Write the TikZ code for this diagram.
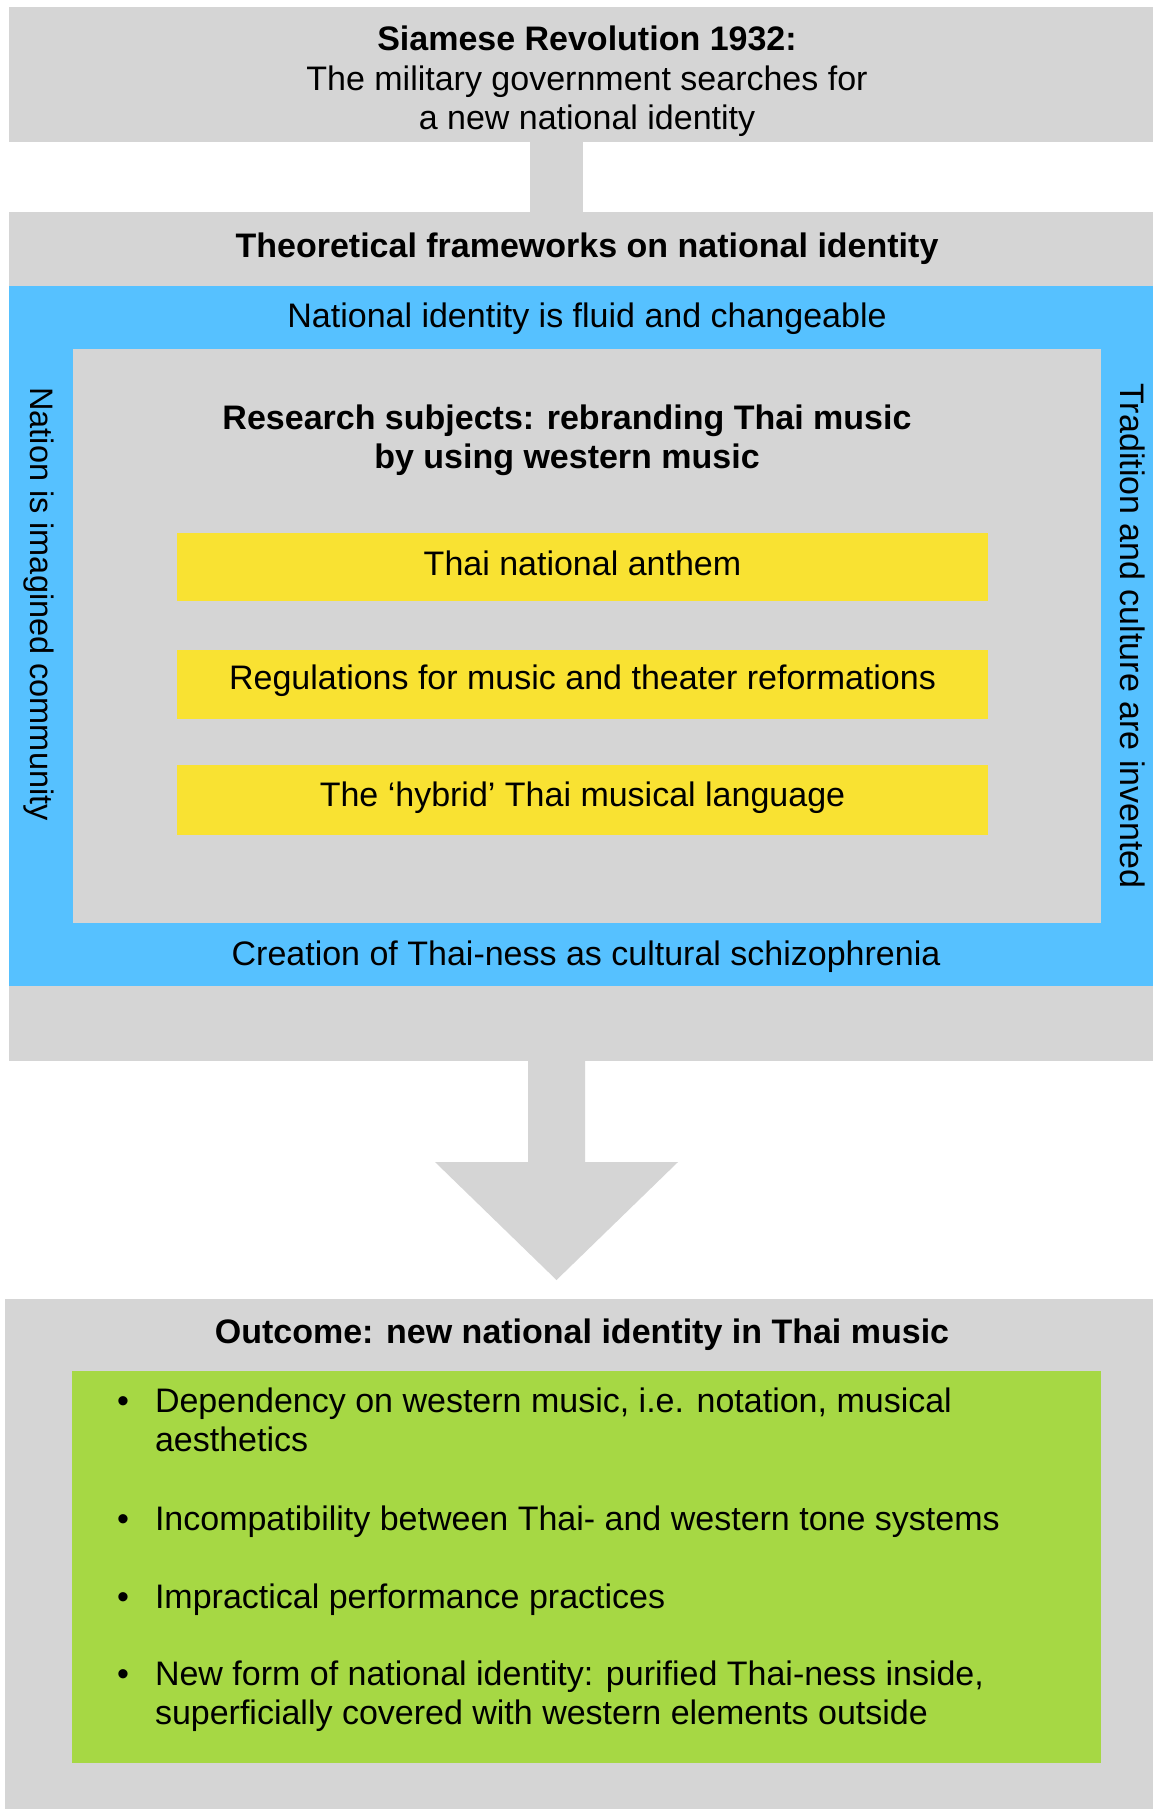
\documentclass[tikz,border=0pt]{standalone}
\usepackage{fontspec}
\setmainfont{Liberation Sans}
\usetikzlibrary{calc}
\definecolor{boxgray}{HTML}{D5D5D5}
\definecolor{bandblue}{HTML}{56C1FF}
\definecolor{hiyellow}{HTML}{F9E232}
\definecolor{outgreen}{HTML}{A6D844}
\tikzset{
  panel/.style={anchor=north west, inner sep=0pt, outer sep=0pt, draw=none},
  txt/.style={font=\fontsize{34}{39}\selectfont, inner sep=0pt, outer sep=0pt, anchor=base, text=black},
  itemtxt/.style={txt, anchor=base west, align=left},
}
\begin{document}
\begin{tikzpicture}[x=1pt,y=-1pt]
\useasboundingbox[fill=white] (0,0) rectangle (1153,1809);

% panels
\node[panel, fill=boxgray, minimum width=1144pt, minimum height=135pt] (top) at (9,7) {};
\node[panel, fill=boxgray, minimum width=1144pt, minimum height=849pt] (theory) at (9,212) {};
\node[panel, fill=bandblue, minimum width=1144pt, minimum height=700pt] (band) at (9,286) {};
\node[panel, fill=boxgray, minimum width=1028pt, minimum height=574pt] (inner) at (73,349) {};
\node[panel, fill=hiyellow, minimum width=811pt, minimum height=68pt] (y1) at (177,533) {};
\node[panel, fill=hiyellow, minimum width=811pt, minimum height=69pt] (y2) at (177,650) {};
\node[panel, fill=hiyellow, minimum width=811pt, minimum height=70pt] (y3) at (177,765) {};
\node[panel, fill=boxgray, minimum width=1148pt, minimum height=510pt] (outcome) at (5,1299) {};
\node[panel, fill=outgreen, minimum width=1029pt, minimum height=392pt] (green) at (72,1371) {};

% connectors
\coordinate (axis) at (556.5,0);
\draw[boxgray, line width=53pt] (axis |- top.south) -- (axis |- theory.north);
\fill[boxgray] (axis |- theory.south) ++(-28.5,0) -- ++(57,0) -- ++(0,101)
  -- ++(93,0) -- ($(axis |- outcome.north)+(0,-19)$) -- ++(-121.5,-118)
  -- ++(93,0) -- cycle;

% texts (multi-line nodes: base anchor = baseline of last line)
\node[txt, align=center] (toptext) at (587,129)
  {\textbf{Siamese Revolution 1932:}\\The military government searches for\\a new national identity};
\node[txt, font=\fontsize{34}{39}\selectfont\bfseries] (theorytext) at (587,257)
  {Theoretical frameworks on national identity};
\node[txt] (fluid) at (587,327) {National identity is fluid and changeable};
\node[txt, align=center, font=\fontsize{34}{39}\selectfont\bfseries] (research) at (567,468)
  {Research subjects: rebranding Thai music\\by using western music};
\node[txt] (anthem) at (582.5,575) {Thai national anthem};
\node[txt] (regul) at (582.5,689) {Regulations for music and theater reformations};
\node[txt] (hybrid) at (582.5,806) {The ‘hybrid’ Thai musical language};
\node[txt] (creation) at (586,965) {Creation of Thai-ness as cultural schizophrenia};
\node[txt, rotate=-90, font=\fontsize{32.5}{39}\selectfont] (nation) at (30,604) {Nation is imagined community};
\node[txt, rotate=-90] (tradition) at (1120,636) {Tradition and culture are invented};

\node[txt, font=\fontsize{34}{39}\selectfont\bfseries] (outhead) at (582,1343)
  {Outcome: new national identity in Thai music};
\node[txt] (b1) at (123,1412) {•};
\node[itemtxt] (i1) at (155,1451) {Dependency on western music, i.e. notation, musical\\aesthetics};
\node[txt] (b2) at (123,1530) {•};
\node[itemtxt] (i2) at (155,1530) {Incompatibility between Thai- and western tone systems};
\node[txt] (b3) at (123,1608) {•};
\node[itemtxt] (i3) at (155,1608) {Impractical performance practices};
\node[txt] (b4) at (123,1685) {•};
\node[itemtxt] (i4) at (155,1724) {New form of national identity: purified Thai-ness inside,\\superficially covered with western elements outside};
\end{tikzpicture}
\end{document}
